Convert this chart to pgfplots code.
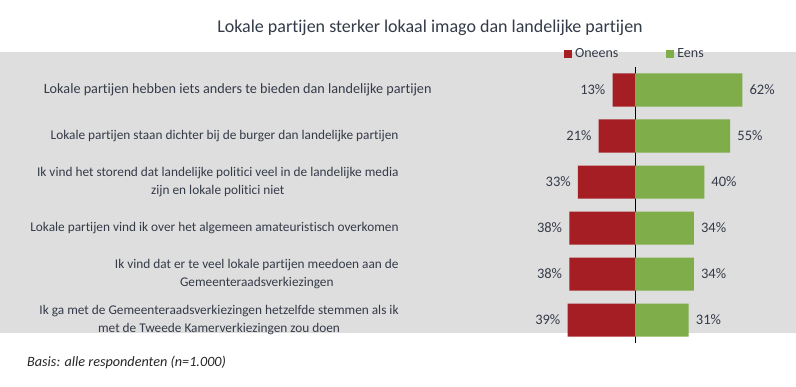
\documentclass[border=0pt]{standalone}
\usepackage{pgfplots}
\pgfplotsset{compat=1.18}
\usepackage{pgfplotstable}
\usepackage{fontspec}
\setmainfont{Carlito}[Ligatures={NoCommon}]
\definecolor{myred}{RGB}{165,30,35}
\definecolor{mygreen}{RGB}{126,173,74}
\definecolor{bggray}{RGB}{222,222,222}
\definecolor{txt}{RGB}{52,58,72}
\pgfplotstableread{
row oneens eens
1 13 62
2 21 55
3 33 40
4 38 34
5 38 34
6 39 31
}\data
\begin{document}
\begin{tikzpicture}[x=1bp,y=1bp]
\path[use as bounding box] (0,0) rectangle (796,386);
\fill[white] (0,0) rectangle (796,386);
\fill[bggray] (0,53) rectangle (796,334);
\node[font=\fontsize{18bp}{21bp}\selectfont, text=txt] at (430,358) {Lokale partijen sterker lokaal imago dan landelijke partijen};
\node[font=\fontsize{14.2bp}{16bp}\selectfont\itshape, text=black!85, anchor=west, inner sep=0pt] at (27,24) {Basis: alle respondenten (n=1.000)};
\begin{axis}[
  at={(548.5bp,319bp)}, anchor=north west,
  scale only axis, width=225bp, height=276bp,
  xmin=-50, xmax=80, ymin=0.5, ymax=6.5,
  y dir=reverse,
  xbar, bar shift=0pt, bar width=33bp,
  axis line style={draw=none},
  tick style={draw=none},
  xtick=\empty,
  ytick={1,2,3,4,5,6},
  yticklabels={
    {\fontsize{14.2bp}{18bp}\selectfont Lokale partijen hebben iets anders te bieden dan landelijke partijen\hspace*{-33bp}},
    {Lokale partijen staan dichter bij de burger dan landelijke partijen},
    {Ik vind het storend dat landelijke politici veel in de landelijke media\\zijn en lokale politici niet},
    {Lokale partijen vind ik over het algemeen amateuristisch overkomen},
    {Ik vind dat er te veel lokale partijen meedoen aan de\\Gemeenteraadsverkiezingen},
    {Ik ga met de Gemeenteraadsverkiezingen hetzelfde stemmen als ik\\met de Tweede Kamerverkiezingen zou doen}},
  yticklabel style={font=\fontsize{13.3bp}{18bp}\selectfont, text=txt, align=center, anchor=east, inner sep=0pt, xshift=-145.5bp},
  extra x ticks={0}, extra x tick labels={},
  extra x tick style={grid=major, major grid style={black, line width=0.8pt}},
  point meta=explicit,
  nodes near coords={\pgfmathprintnumber[assume math mode=true]{\pgfplotspointmeta}\%},
  nodes near coords align={horizontal},
  nodes near coords style={font=\fontsize{14.5bp}{16bp}\selectfont, text=txt, inner xsep=7bp},
  legend style={at={(axis description cs:0.384,1.047)}, anchor=center, draw=none, fill=none,
    font=\fontsize{14bp}{16bp}\selectfont, text=txt, legend columns=2,
    /tikz/every even column/.append style={column sep=46bp}},
  legend cell align=left,
  clip=false,
]
\addplot[fill=myred, draw=none,
  every node near coord/.append style={anchor=east},
  legend image code/.code={\path (0bp,0bp) -- (9bp,0bp);\fill[myred] (0bp,-4bp) rectangle (8bp,4bp);}]
  table[x expr=-\thisrow{oneens}, y=row, meta=oneens] {\data};
\addlegendentry{Oneens}
\addplot[fill=mygreen, draw=none,
  every node near coord/.append style={anchor=west},
  legend image code/.code={\path (0bp,0bp) -- (9bp,0bp);\fill[mygreen] (0bp,-4bp) rectangle (8bp,4bp);}]
  table[x=eens, y=row, meta=eens] {\data};
\addlegendentry{Eens}
\end{axis}
\end{tikzpicture}
\end{document}
